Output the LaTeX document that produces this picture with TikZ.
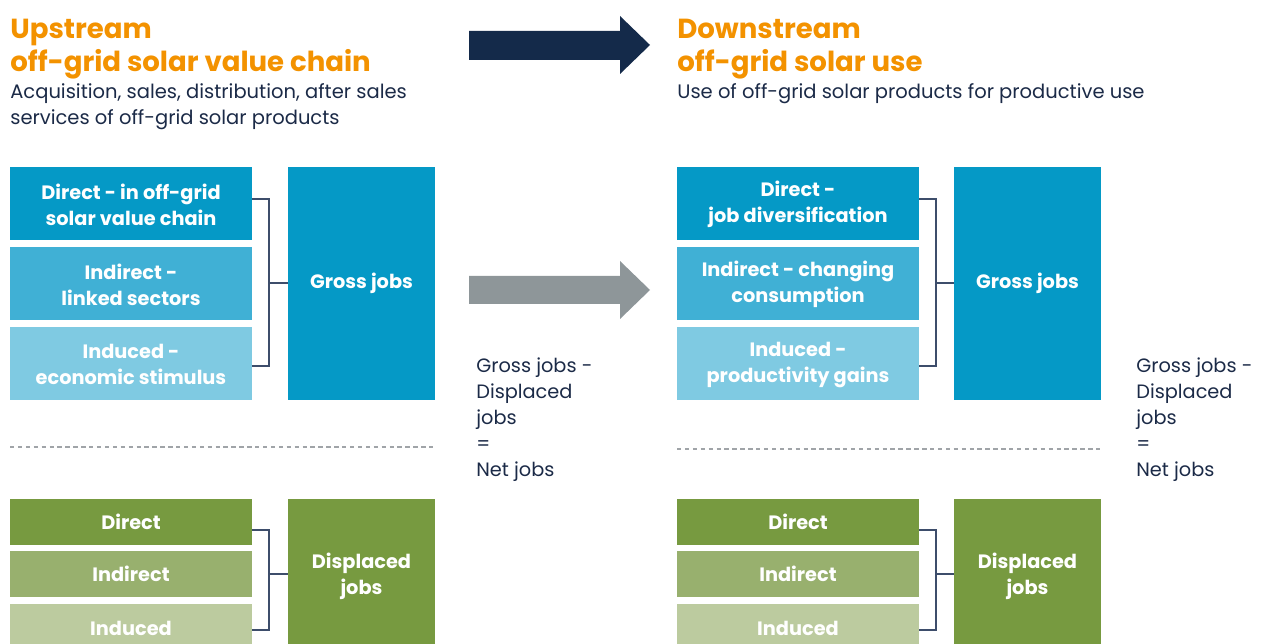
\documentclass[tikz,border=0pt]{standalone}
\usepackage{fontspec}
\setmainfont{Poppins}
\usetikzlibrary{fit}
\definecolor{orng}{HTML}{F39200}
\definecolor{navy}{HTML}{1B2A47}
\definecolor{arrdark}{HTML}{142A4A}
\definecolor{arrgray}{HTML}{8E9699}
\definecolor{blueA}{HTML}{0599C6}
\definecolor{blueB}{HTML}{40B0D5}
\definecolor{blueC}{HTML}{7FCAE2}
\definecolor{greenA}{HTML}{779A40}
\definecolor{greenB}{HTML}{98B06E}
\definecolor{greenC}{HTML}{BCCB9F}
\definecolor{brk}{HTML}{3D4D6B}
\definecolor{dashc}{HTML}{A0A4A8}
\tikzset{
  box/.style={inner sep=0pt, outer sep=0pt, draw=none},
  boxtext/.style={text=white, font=\fontsize{11}{14.8}\selectfont\bfseries, align=center, inner sep=0pt, yshift=-0.6pt},
  onetext/.style={boxtext, yshift=0.6pt},
  title/.style={text=orng, font=\fontsize{15.7}{19.3}\selectfont\bfseries, align=left, anchor=base west, inner sep=0pt},
  sub/.style={text=navy, font=\fontsize{11.1}{14.8}\selectfont, align=left, anchor=base west, inner sep=0pt},
  net/.style={text=navy, font=\fontsize{11}{14.8}\selectfont, align=left, anchor=base west, inner sep=0pt},
  bracket/.style={draw=brk, line width=0.8pt},
  sep/.style={draw=dashc, dashed, dash pattern=on 2.5pt off 2pt, line width=0.6pt},
}
\begin{document}
\begin{tikzpicture}[x=0.02cm,y=-0.02cm]
\useasboundingbox (0,0) rectangle (1267,644);
% titles
\node[title] (t1) at (10,72) {Upstream\\off-grid solar value chain};
\node[sub] (s1) at (10,125) {Acquisition, sales, distribution, after sales\\services of off-grid solar products};
\node[title] (t2) at (677,72) {Downstream\\off-grid solar use};
\node[sub] (s2) at (677,99) {Use of off-grid solar products for productive use};
% arrows
\fill[arrdark] (469,31) -- (620,31) -- (620,16) -- (650,45) -- (620,74) -- (620,60) -- (469,60) -- cycle;
\fill[arrgray] (469,276) -- (620,276) -- (620,261) -- (650,290) -- (620,319) -- (620,304) -- (469,304) -- cycle;
% ---------- upstream ----------
\node[box, fill=blueA, fit={(10,167) (252,240)}] (ua) {};
\node[boxtext] at (ua.center) {Direct - in off-grid\\solar value chain};
\node[box, fill=blueB, fit={(10,247) (252,320)}] (ub) {};
\node[boxtext] at (ub.center) {Indirect -\\linked sectors};
\node[box, fill=blueC, fit={(10,327) (252,400)}] (uc) {};
\node[boxtext] at (uc.center) {Induced -\\economic stimulus};
\node[box, fill=blueA, fit={(288,167) (435,400)}] (ug) {};
\node[onetext] at (ug.center) {Gross jobs};
\draw[bracket] (ua.east |- 0,199) -- (269,199) -- (269,366) -- (uc.east |- 0,366);
\draw[bracket] (269,283) -- (ug.west |- 0,283);
\draw[sep] (10,447) -- (435,447);
\node[box, fill=greenA, fit={(10,499) (252,545)}] (ud) {};
\node[onetext] at (ud.center) {Direct};
\node[box, fill=greenB, fit={(10,551) (252,597)}] (ue) {};
\node[onetext] at (ue.center) {Indirect};
\node[box, fill=greenC, fit={(10,604) (252,650)}] (uf) {};
\node[onetext] at (10+121,628) {Induced};
\node[box, fill=greenA, fit={(288,499) (435,650)}] (udj) {};
\node[boxtext] at (361.5,575) {Displaced\\jobs};
\draw[bracket] (ud.east |- 0,530) -- (269,530) -- (269,630) -- (uf.east |- 0,630);
\draw[bracket] (269,574) -- (udj.west |- 0,574);
\node[net] (un) at (476,477) {Gross jobs -\\Displaced\\jobs\\=\\Net jobs};
% ---------- downstream ----------
\node[box, fill=blueA, fit={(677,167) (919,240)}] (da) {};
\node[boxtext] at (da.center) {Direct -\\job diversification};
\node[box, fill=blueB, fit={(677,247) (919,320)}] (db) {};
\node[boxtext] at (db.center) {Indirect - changing\\consumption};
\node[box, fill=blueC, fit={(677,327) (919,400)}] (dc) {};
\node[boxtext] at (dc.center) {Induced -\\productivity gains};
\node[box, fill=blueA, fit={(954,167) (1101,400)}] (dg) {};
\node[onetext] at (dg.center) {Gross jobs};
\draw[bracket] (da.east |- 0,199) -- (936,199) -- (936,366) -- (dc.east |- 0,366);
\draw[bracket] (936,283) -- (dg.west |- 0,283);
\draw[sep] (677,449) -- (1101,449);
\node[box, fill=greenA, fit={(677,499) (919,545)}] (dd) {};
\node[onetext] at (dd.center) {Direct};
\node[box, fill=greenB, fit={(677,551) (919,597)}] (de) {};
\node[onetext] at (de.center) {Indirect};
\node[box, fill=greenC, fit={(677,604) (919,650)}] (df) {};
\node[onetext] at (798,628) {Induced};
\node[box, fill=greenA, fit={(954,499) (1101,650)}] (ddj) {};
\node[boxtext] at (1027.5,575) {Displaced\\jobs};
\draw[bracket] (dd.east |- 0,530) -- (936,530) -- (936,630) -- (df.east |- 0,630);
\draw[bracket] (936,574) -- (ddj.west |- 0,574);
\node[net] (dn) at (1136,477) {Gross jobs -\\Displaced\\jobs\\=\\Net jobs};
\end{tikzpicture}
\end{document}
